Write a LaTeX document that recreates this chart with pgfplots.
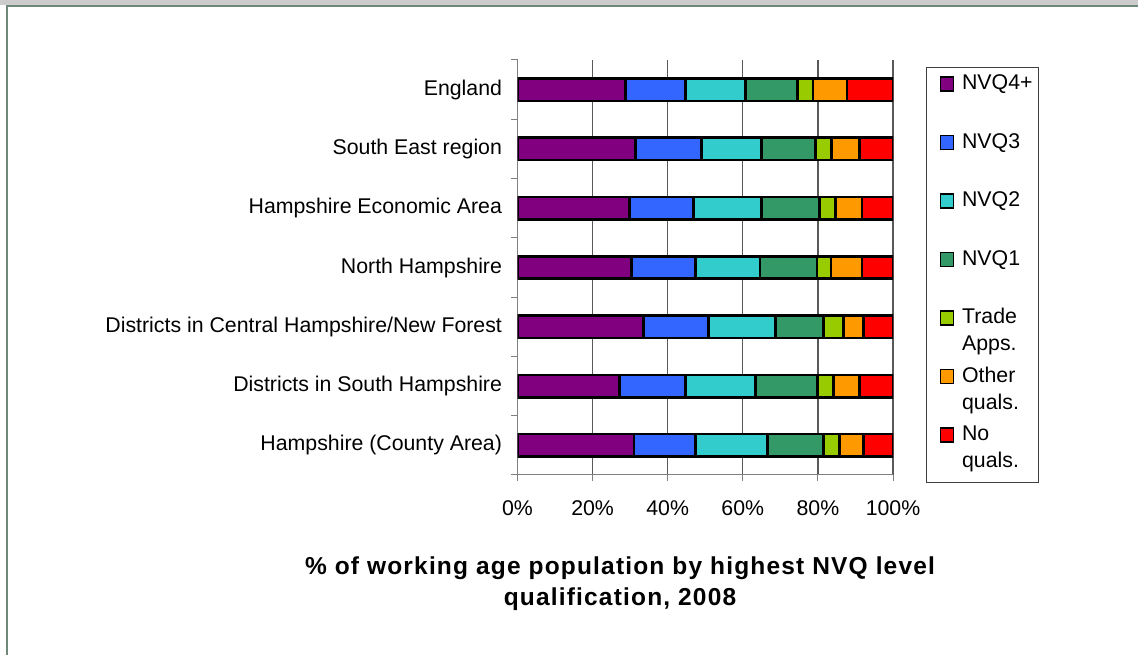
\documentclass[border=0pt]{standalone}
\usepackage{fontspec}
\setmainfont{Liberation Sans}
\newfontfamily\titlefont[LetterSpace=4.8]{Liberation Sans}
\usepackage{pgfplots}
\pgfplotsset{compat=1.18}
\definecolor{c1}{HTML}{800080}
\definecolor{c2}{HTML}{3366FF}
\definecolor{c3}{HTML}{33CCCC}
\definecolor{c4}{HTML}{339966}
\definecolor{c5}{HTML}{99CC00}
\definecolor{c6}{HTML}{FF9900}
\definecolor{c7}{HTML}{FF0000}
\definecolor{framec}{RGB}{110,136,122}
\definecolor{bandc}{RGB}{204,204,204}
\pgfplotsset{sqlegend/.style={legend image code/.code={\draw[##1,line width=1.6pt] (0pt,-1.4pt) rectangle (13pt,12.6pt);}},
  bs/.style={fill=#1, draw=black, line width=2.6pt, sqlegend}}
\begin{document}
\begin{tikzpicture}
\path[use as bounding box] (0pt,0pt) rectangle (1138pt,655pt);
\fill[bandc] (0pt,650pt) rectangle (1138pt,655pt);
\draw[framec, line width=2pt] (6.8pt,0pt) -- (6.8pt,648.5pt) -- (1138pt,648.5pt);
\begin{axis}[
  at={(517.5pt,180pt)}, anchor=south west,
  scale only axis, width=375.5pt, height=415pt,
  xbar stacked, bar width=22.5pt,
  xmin=0, xmax=100, ymin=-0.5, ymax=6.5,
  axis x line=bottom, axis y line=left,
  axis line style={-, draw=black!50, line width=1pt},
  tick align=outside, major tick length=6pt,
  tick style={draw=black!50, line width=1pt},
  xtick={0,20,40,60,80,100},
  xticklabels={0\%,20\%,40\%,60\%,80\%,100\%},
  ytick={-0.5,0.5,1.5,2.5,3.5,4.5,5.5,6.5},
  y tick label as interval,
  yticklabels={Hampshire (County Area),Districts in South Hampshire,Districts in Central Hampshire/New Forest,North Hampshire,Hampshire Economic Area,South East region,England},
  xmajorgrids, major grid style={draw=black!65, line width=1.2pt},
  ticklabel style={font=\fontsize{21.3}{25}\selectfont},
  yticklabel style={xshift=-6pt},
  xticklabel style={yshift=-16pt},
  legend style={at={(axis description cs:1.0879,0.9831)}, anchor=north west,
    draw=black!75, line width=1pt, inner xsep=13pt, inner ysep=6.3pt,
    row sep=6.75pt, column sep=8pt, font=\fontsize{21.3}{27}\selectfont,
    cells={anchor=base west},
    nodes={inner sep=0pt, text height=16pt, text depth=35.7pt, text width=63pt, align=left}},
]
\addplot[bs=c1] coordinates {(31.0,0) (27.2,1) (33.6,2) (30.3,3) (29.8,4) (31.4,5) (28.8,6)};
\addlegendentry{NVQ4+}
\addplot[bs=c2] coordinates {(16.4,0) (17.6,1) (17.2,2) (17.1,3) (17.1,4) (17.6,5) (15.9,6)};
\addlegendentry{NVQ3}
\addplot[bs=c3] coordinates {(19.2,0) (18.6,1) (17.9,2) (17.2,3) (18.1,4) (16.0,5) (16.0,6)};
\addlegendentry{NVQ2}
\addplot[bs=c4] coordinates {(14.9,0) (16.5,1) (12.8,2) (15.2,3) (15.4,4) (14.3,5) (13.8,6)};
\addlegendentry{NVQ1}
\addplot[bs=c5] coordinates {(4.2,0) (4.3,1) (5.3,2) (3.7,3) (4.3,4) (4.3,5) (4.2,6)};
\addlegendentry{Trade\\Apps.}
\addplot[bs=c6] coordinates {(6.4,0) (6.9,1) (5.3,2) (8.2,3) (7.0,4) (7.5,5) (9.1,6)};
\addlegendentry{Other\\quals.}
\addplot[bs=c7] coordinates {(7.9,0) (8.9,1) (7.9,2) (8.3,3) (8.3,4) (8.9,5) (12.2,6)};
\addlegendentry{No\\quals.}
\end{axis}
\node[anchor=base, font=\titlefont\bfseries\fontsize{24.5}{29}\selectfont, inner sep=0pt] at (620pt,80pt) {\% of working age population by highest NVQ level};
\node[anchor=base, font=\titlefont\bfseries\fontsize{24.5}{29}\selectfont, inner sep=0pt] at (620pt,49pt) {qualification, 2008};
\end{tikzpicture}
\end{document}
